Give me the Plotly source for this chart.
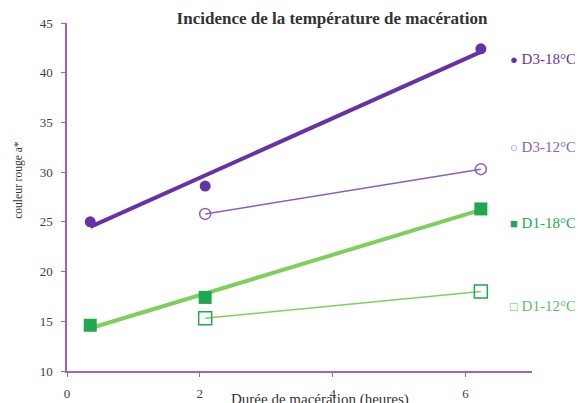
import plotly.graph_objects as go

# Data
x_d3_18 = [0.35, 2.08, 6.23]
y_d3_18 = [25.0, 28.6, 42.4]
trend_x_d3_18 = [0.35, 6.23]
trend_y_d3_18 = [24.5, 42.1]

x_d3_12 = [2.08, 6.23]
y_d3_12 = [25.8, 30.3]

x_d1_18 = [0.35, 2.08, 6.23]
y_d1_18 = [14.6, 17.4, 26.3]
trend_x_d1_18 = [0.35, 6.23]
trend_y_d1_18 = [14.3, 26.2]

x_d1_12 = [2.08, 6.23]
y_d1_12 = [15.3, 18.0]

x_ticks = [0, 2, 4, 6]
y_ticks = [10, 15, 20, 25, 30, 35, 40, 45]

legend_labels = ["D3-18°C", "D3-12°C", "D1-18°C", "D1-12°C"]
legend_symbols = ["●", "○", "■", "□"]

PURPLE = "#6632a8"
PURPLE_L = "#8a5ec4"
GREEN = "#1fa84f"
GREEN_L = "#7fcf5c"
GREEN_T = "#58c06a"
AXIS = "#a060c0"
FONT = "Liberation Serif"
TXT = "#404040"

fig = go.Figure()

fig.add_trace(go.Scatter(x=trend_x_d3_18, y=trend_y_d3_18, mode="lines",
                         line=dict(color=PURPLE, width=4), hoverinfo="skip"))
fig.add_trace(go.Scatter(x=x_d3_18, y=y_d3_18, mode="markers",
                         marker=dict(symbol="circle", size=11, color=PURPLE)))
fig.add_trace(go.Scatter(x=x_d3_12, y=y_d3_12, mode="lines+markers",
                         line=dict(color=PURPLE_L, width=1.5),
                         marker=dict(symbol="circle-open", size=11, color=PURPLE_L,
                                     line=dict(width=1.5, color=PURPLE_L))))
fig.add_trace(go.Scatter(x=trend_x_d1_18, y=trend_y_d1_18, mode="lines",
                         line=dict(color=GREEN_L, width=4), hoverinfo="skip"))
fig.add_trace(go.Scatter(x=x_d1_18, y=y_d1_18, mode="markers",
                         marker=dict(symbol="square", size=13, color=GREEN)))
fig.add_trace(go.Scatter(x=x_d1_12, y=y_d1_12, mode="lines+markers",
                         line=dict(color=GREEN_L, width=1.5),
                         marker=dict(symbol="square-open", size=13, color=GREEN,
                                     line=dict(width=1.5, color=GREEN))))

legend_colors = [PURPLE, PURPLE_L, GREEN, GREEN_T]
legend_y = [41.4, 32.5, 24.9, 16.5]
annotations = []
for lab, sym, col, ly in zip(legend_labels, legend_symbols, legend_colors, legend_y):
    annotations.append(dict(x=6.64, y=ly, xref="x", yref="y", xanchor="left",
                            yanchor="middle", showarrow=False,
                            text=f"<span style='font-size:13px'>{sym}</span> {lab}",
                            font=dict(family=FONT, size=15, color=col)))

annotations.append(dict(x=(320 - 67) / (532 - 67), y=-0.083, xref="paper", yref="paper",
                        xanchor="center", yanchor="middle", showarrow=False,
                        text="Durée de macération (heures)",
                        font=dict(family=FONT, size=15, color="#333333")))
annotations.append(dict(x=-0.105, y=0.55, xref="paper", yref="paper",
                        xanchor="center", yanchor="middle", showarrow=False,
                        textangle=-90, text="couleur rouge a*",
                        font=dict(family=FONT, size=11.5, color="#333333")))

fig.update_layout(
    width=583, height=403,
    margin=dict(l=59, r=59, t=15, b=40, autoexpand=False),
    paper_bgcolor="white", plot_bgcolor="white",
    showlegend=False,
    title=dict(text="<b>Incidence de la température de macération</b>",
               x=324 / 583, xanchor="center", y=1 - 10 / 403, yanchor="middle",
               automargin=False,
               font=dict(family=FONT, size=17, color="#333333")),
    annotations=annotations,
    font=dict(family=FONT, color=TXT),
)
fig.update_xaxes(range=[0, 7], tickvals=x_ticks, showgrid=False, zeroline=False,
                 automargin=False,
                 showline=True, linecolor=AXIS, linewidth=1.5,
                 ticks="outside", tickcolor=AXIS, ticklen=4,
                 ticklabelstandoff=6, tickfont=dict(family=FONT, size=13, color=TXT))
fig.update_yaxes(range=[10, 45], tickvals=y_ticks, showgrid=False, zeroline=False,
                 automargin=False,
                 showline=True, linecolor=AXIS, linewidth=1.5,
                 ticks="outside", tickcolor=AXIS, ticklen=4,
                 ticklabelstandoff=6,
                 tickfont=dict(family=FONT, size=13, color=TXT))

fig.write_html("out.html")
